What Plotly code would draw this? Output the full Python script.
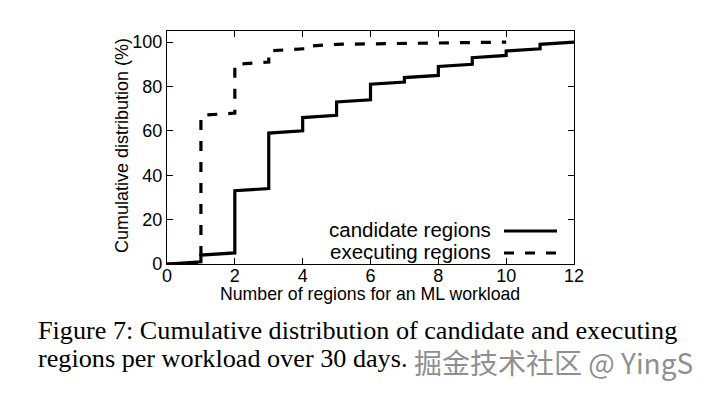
import plotly.graph_objects as go

# Candidate regions CDF (gnuplot-style: each step drawn as a slight slope then a jump)
cand_x = [0, 1, 1, 2, 2, 3, 3, 4, 4, 5, 5, 6, 6, 7, 7, 8, 8, 9, 9, 10, 10, 11, 11, 12]
cand_y = [0, 1, 4, 5, 33, 34, 59, 60, 66, 67, 73, 74, 81, 82, 84, 85, 89, 90, 93, 94, 96, 97, 99, 100]

# Executing regions CDF
exec_x = [0, 1, 1, 2, 2, 3, 3, 4, 4, 5, 10]
exec_y = [0, 0, 67, 68, 90, 91, 96, 97, 98, 99, 100]

x_ticks = [0, 2, 4, 6, 8, 10, 12]
y_ticks = [0, 20, 40, 60, 80, 100]

series_names = ["candidate regions", "executing regions"]

OFF = 8  # page body margin
W, H = 710 - OFF, 394 - OFF
L, T = 167 - OFF, 31 - OFF
PW, PH = 407, 233
R = W - L - PW
B = H - T - PH

def px(X):
    return (X - OFF - L) / PW

def py(Y):
    return (T + PH - (Y - OFF)) / PH

fig = go.Figure()
fig.add_trace(go.Scatter(x=cand_x, y=cand_y, mode="lines", name=series_names[0],
                         line=dict(color="black", width=3.2), showlegend=False))
fig.add_trace(go.Scatter(x=exec_x, y=exec_y, mode="lines", name=series_names[1],
                         line=dict(color="black", width=3.2, dash="10px,11px"), showlegend=False))

axis_font = dict(family="Liberation Sans, Arial, sans-serif", size=18, color="black")

fig.update_layout(
    width=W, height=H,
    margin=dict(l=L, r=R, t=T, b=B, pad=0),
    paper_bgcolor="white", plot_bgcolor="white",
    xaxis=dict(range=[0, 12], tickvals=x_ticks, ticks="inside", ticklen=6, tickwidth=1,
               tickcolor="black", showline=True, linecolor="black", linewidth=1.3,
               mirror="ticks", showgrid=False, zeroline=False, tickfont=axis_font,
               ticklabelstandoff=-5),
    yaxis=dict(range=[0, 105], tickvals=y_ticks, ticks="inside", ticklen=6, tickwidth=1,
               tickcolor="black", showline=True, linecolor="black", linewidth=1.3,
               mirror="ticks", showgrid=False, zeroline=False, tickfont=axis_font,
               ticklabelstandoff=0),
)

title_font = dict(family="Liberation Sans, Arial, sans-serif", size=17.7, color="black")
ann = [
    dict(text="Number of regions for an ML workload", x=px(370), y=py(294), xref="paper", yref="paper",
         xanchor="center", yanchor="middle", showarrow=False, font=title_font),
    dict(text="Cumulative distribution (%)", x=px(122), y=py(146), xref="paper", yref="paper",
         xanchor="center", yanchor="middle", showarrow=False, textangle=-90,
         font=dict(family="Liberation Sans, Arial, sans-serif", size=18, color="black")),
]

legend_font = dict(family="Liberation Sans, Arial, sans-serif", size=20.5, color="black")
shapes = []
for name, yy, dash in [(series_names[0], 229, "solid"), (series_names[1], 251, "10px,11px")]:
    ann.append(dict(text=name, x=px(493), y=py(yy), xref="paper", yref="paper",
                    xanchor="right", yanchor="middle", showarrow=False, font=legend_font))
    shapes.append(dict(type="line", xref="paper", yref="paper", x0=px(504), x1=px(557),
                       y0=py(yy + 2), y1=py(yy + 2), line=dict(color="black", width=3.2, dash=dash)))

cap_font = dict(family="Liberation Serif, Times New Roman, serif", size=26.2, color="black")
ann.append(dict(text="Figure 7: Cumulative distribution of candidate and executing",
                x=px(36), y=py(330), xref="paper", yref="paper", xanchor="left", yanchor="middle",
                showarrow=False, font=cap_font))
ann.append(dict(text="regions per workload over 30 days.",
                x=px(36), y=py(358), xref="paper", yref="paper", xanchor="left", yanchor="middle",
                showarrow=False, font=cap_font))
ann.append(dict(text="掘金技术社区 @ YingS",
                x=px(695), y=py(362), xref="paper", yref="paper", xanchor="right", yanchor="middle",
                showarrow=False,
                font=dict(family="Noto Sans CJK SC, sans-serif", size=28, color="#8f8f8f")))

fig.update_layout(annotations=ann, shapes=shapes)

fig.write_html("out.html")
